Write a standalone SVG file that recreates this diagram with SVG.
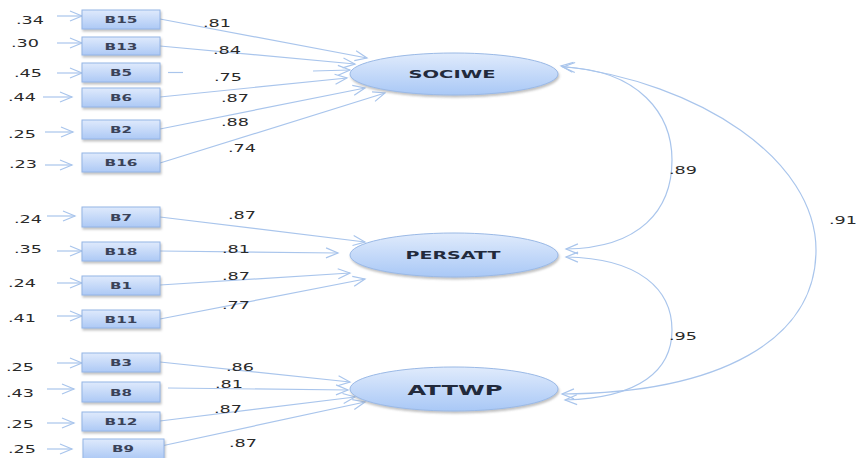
<svg xmlns="http://www.w3.org/2000/svg" width="857" height="458" viewBox="0 0 857 458">
<style>
.c{fill:none;stroke:#a9c5ec;stroke-width:1.2}
.a{marker-end:url(#ah)}
.b{marker-start:url(#ah2);marker-end:url(#ah)}
.box{fill:url(#gb);stroke:#94b5e6;stroke-width:1;filter:url(#sh)}
.ell{fill:url(#ge);stroke:#9ab9e6;stroke-width:1;filter:url(#sh)}
.t{font-family:"DejaVu Sans",sans-serif;font-size:10.5px;fill:#2a2a2a;text-anchor:middle}
.bt{font-family:"DejaVu Sans",sans-serif;font-size:9.5px;font-weight:bold;fill:#3a4258;text-anchor:middle}
.et{font-family:"DejaVu Sans",sans-serif;font-size:11px;font-weight:bold;fill:#222a3c;text-anchor:middle}
</style>
<defs>
<linearGradient id="gb" x1="0" y1="0" x2="0" y2="1"><stop offset="0" stop-color="#dfeafc"/><stop offset="1" stop-color="#adc9f5"/></linearGradient>
<linearGradient id="ge" x1="0" y1="0" x2="0" y2="1"><stop offset="0" stop-color="#e0ebfc"/><stop offset="1" stop-color="#a9c8f6"/></linearGradient>
<filter id="sh" x="-10%" y="-20%" width="120%" height="150%"><feDropShadow dx="1" dy="2" stdDeviation="1.2" flood-color="#777" flood-opacity="0.45"/></filter>
<marker id="ah" markerUnits="userSpaceOnUse" viewBox="-14 -7 16 14" refX="0" refY="0" markerWidth="16" markerHeight="14" orient="auto" overflow="visible"><path d="M-12,-5 L0,0 L-12,5" fill="none" stroke="#a9c5ec" stroke-width="1.2"/></marker>
<marker id="ah2" markerUnits="userSpaceOnUse" viewBox="-14 -7 16 14" refX="0" refY="0" markerWidth="16" markerHeight="14" orient="auto-start-reverse" overflow="visible"><path d="M-12,-5 L0,0 L-12,5" fill="none" stroke="#a9c5ec" stroke-width="1.2"/></marker>
</defs>
<g id="connectors">
<line class="c a" x1="57" y1="16" x2="82" y2="16"/>
<line class="c a" x1="57" y1="43" x2="82" y2="43"/>
<line class="c a" x1="57" y1="73" x2="82" y2="73"/>
<line class="c a" x1="43" y1="97" x2="72" y2="97"/>
<line class="c a" x1="45" y1="132" x2="73" y2="132"/>
<line class="c a" x1="45" y1="165" x2="72" y2="165"/>
<line class="c a" x1="47" y1="216" x2="75" y2="216"/>
<line class="c a" x1="57" y1="251" x2="82" y2="251"/>
<line class="c a" x1="57" y1="283" x2="82" y2="283"/>
<line class="c a" x1="57" y1="316" x2="82" y2="316"/>
<line class="c a" x1="57" y1="363" x2="82" y2="363"/>
<line class="c a" x1="47" y1="389" x2="74" y2="389"/>
<line class="c a" x1="47" y1="423" x2="74" y2="423"/>
<line class="c a" x1="47" y1="449" x2="72" y2="449"/>
<line class="c a" x1="160" y1="19" x2="367" y2="58"/>
<line class="c a" x1="160" y1="46" x2="355" y2="64"/>
<line class="c" x1="168" y1="72.5" x2="183" y2="72.5"/>
<line class="c a" x1="313" y1="71" x2="350" y2="70"/>
<line class="c a" x1="160" y1="97" x2="347" y2="78"/>
<line class="c a" x1="160" y1="129" x2="365" y2="88"/>
<line class="c a" x1="160" y1="163" x2="385" y2="93"/>
<line class="c a" x1="160" y1="217" x2="365" y2="242"/>
<line class="c a" x1="160" y1="251" x2="338" y2="253"/>
<line class="c a" x1="160" y1="285" x2="350" y2="273"/>
<line class="c a" x1="160" y1="319" x2="365" y2="279"/>
<line class="c a" x1="160" y1="362" x2="350" y2="382"/>
<line class="c a" x1="168" y1="388" x2="348" y2="390"/>
<line class="c a" x1="160" y1="421" x2="355" y2="397"/>
<line class="c a" x1="152" y1="448" x2="365" y2="402"/>
<path class="c b" d="M563,67 C640,70 672,115 672,160 C672,210 640,248 566,249"/>
<path class="c b" d="M561,66 C700,82 816,160 816,250 C816,340 720,393 562,394"/>
<path class="c b" d="M566,257 C640,258 672,290 672,330 C672,370 640,398 565,400"/>
</g>
<g id="labels">
<text class="t" x="30" y="24" textLength="28" lengthAdjust="spacingAndGlyphs">.34</text>
<text class="t" x="25" y="47" textLength="28" lengthAdjust="spacingAndGlyphs">.30</text>
<text class="t" x="28" y="77" textLength="28" lengthAdjust="spacingAndGlyphs">.45</text>
<text class="t" x="22" y="101" textLength="28" lengthAdjust="spacingAndGlyphs">.44</text>
<text class="t" x="22" y="138" textLength="28" lengthAdjust="spacingAndGlyphs">.25</text>
<text class="t" x="23" y="168" textLength="28" lengthAdjust="spacingAndGlyphs">.23</text>
<text class="t" x="28" y="223" textLength="28" lengthAdjust="spacingAndGlyphs">.24</text>
<text class="t" x="28" y="253" textLength="28" lengthAdjust="spacingAndGlyphs">.35</text>
<text class="t" x="22" y="287" textLength="28" lengthAdjust="spacingAndGlyphs">.24</text>
<text class="t" x="22" y="322" textLength="28" lengthAdjust="spacingAndGlyphs">.41</text>
<text class="t" x="20" y="371" textLength="28" lengthAdjust="spacingAndGlyphs">.25</text>
<text class="t" x="20" y="397" textLength="28" lengthAdjust="spacingAndGlyphs">.43</text>
<text class="t" x="20" y="428" textLength="28" lengthAdjust="spacingAndGlyphs">.25</text>
<text class="t" x="22" y="453" textLength="28" lengthAdjust="spacingAndGlyphs">.25</text>
<text class="t" x="217" y="27" textLength="28" lengthAdjust="spacingAndGlyphs">.81</text>
<text class="t" x="227" y="54" textLength="28" lengthAdjust="spacingAndGlyphs">.84</text>
<text class="t" x="228" y="81" textLength="28" lengthAdjust="spacingAndGlyphs">.75</text>
<text class="t" x="235" y="102" textLength="28" lengthAdjust="spacingAndGlyphs">.87</text>
<text class="t" x="235" y="126" textLength="28" lengthAdjust="spacingAndGlyphs">.88</text>
<text class="t" x="242" y="152" textLength="28" lengthAdjust="spacingAndGlyphs">.74</text>
<text class="t" x="242" y="219" textLength="28" lengthAdjust="spacingAndGlyphs">.87</text>
<text class="t" x="236" y="253" textLength="28" lengthAdjust="spacingAndGlyphs">.81</text>
<text class="t" x="236" y="280" textLength="28" lengthAdjust="spacingAndGlyphs">.87</text>
<text class="t" x="236" y="309" textLength="28" lengthAdjust="spacingAndGlyphs">.77</text>
<text class="t" x="240" y="371" textLength="28" lengthAdjust="spacingAndGlyphs">.86</text>
<text class="t" x="229" y="388" textLength="28" lengthAdjust="spacingAndGlyphs">.81</text>
<text class="t" x="228" y="413" textLength="28" lengthAdjust="spacingAndGlyphs">.87</text>
<text class="t" x="243" y="447" textLength="28" lengthAdjust="spacingAndGlyphs">.87</text>
<text class="t" x="683" y="174" textLength="28" lengthAdjust="spacingAndGlyphs">.89</text>
<text class="t" x="843" y="224" textLength="28" lengthAdjust="spacingAndGlyphs">.91</text>
<text class="t" x="683" y="340" textLength="28" lengthAdjust="spacingAndGlyphs">.95</text>
</g>
<g id="B15"><rect class="box" x="82" y="10" width="78" height="19"/><text class="bt" x="121" y="23" textLength="33" lengthAdjust="spacingAndGlyphs">B15</text></g>
<g id="B13"><rect class="box" x="82" y="37" width="78" height="18"/><text class="bt" x="121" y="49.5" textLength="33" lengthAdjust="spacingAndGlyphs">B13</text></g>
<g id="B5"><rect class="box" x="82" y="63" width="78" height="19"/><text class="bt" x="121" y="76" textLength="22" lengthAdjust="spacingAndGlyphs">B5</text></g>
<g id="B6"><rect class="box" x="82" y="88" width="78" height="19"/><text class="bt" x="121" y="101" textLength="22" lengthAdjust="spacingAndGlyphs">B6</text></g>
<g id="B2"><rect class="box" x="82" y="120" width="78" height="19"/><text class="bt" x="121" y="133" textLength="22" lengthAdjust="spacingAndGlyphs">B2</text></g>
<g id="B16"><rect class="box" x="82" y="153" width="78" height="19"/><text class="bt" x="121" y="166" textLength="33" lengthAdjust="spacingAndGlyphs">B16</text></g>
<g id="B7"><rect class="box" x="82" y="207" width="78" height="20"/><text class="bt" x="121" y="220.5" textLength="22" lengthAdjust="spacingAndGlyphs">B7</text></g>
<g id="B18"><rect class="box" x="82" y="242" width="78" height="19"/><text class="bt" x="121" y="255" textLength="33" lengthAdjust="spacingAndGlyphs">B18</text></g>
<g id="B1"><rect class="box" x="82" y="276" width="78" height="19"/><text class="bt" x="121" y="289" textLength="22" lengthAdjust="spacingAndGlyphs">B1</text></g>
<g id="B11"><rect class="box" x="82" y="310" width="78" height="18"/><text class="bt" x="121" y="323" textLength="33" lengthAdjust="spacingAndGlyphs">B11</text></g>
<g id="B3"><rect class="box" x="82" y="353" width="78" height="19"/><text class="bt" x="121" y="366" textLength="22" lengthAdjust="spacingAndGlyphs">B3</text></g>
<g id="B8"><rect class="box" x="82" y="382" width="78" height="20"/><text class="bt" x="121" y="395.5" textLength="22" lengthAdjust="spacingAndGlyphs">B8</text></g>
<g id="B12"><rect class="box" x="82" y="412" width="78" height="19"/><text class="bt" x="121" y="425" textLength="33" lengthAdjust="spacingAndGlyphs">B12</text></g>
<g id="B9"><rect class="box" x="83" y="439" width="81" height="20"/><text class="bt" x="123" y="452" textLength="22" lengthAdjust="spacingAndGlyphs">B9</text></g>
<g id="SOCIWE"><ellipse class="ell" cx="454" cy="74" rx="104" ry="21"/><text class="et" x="452" y="78" textLength="87" lengthAdjust="spacingAndGlyphs">SOCIWE</text></g>
<g id="PERSATT"><ellipse class="ell" cx="454" cy="255" rx="104" ry="22"/><text class="et" x="453" y="259" textLength="95" lengthAdjust="spacingAndGlyphs">PERSATT</text></g>
<g id="ATTWP"><ellipse class="ell" cx="454" cy="389" rx="104" ry="22"/><text class="et" x="455" y="394.5" style="font-size:13.5px" textLength="95" lengthAdjust="spacingAndGlyphs">ATTWP</text></g>
</svg>
